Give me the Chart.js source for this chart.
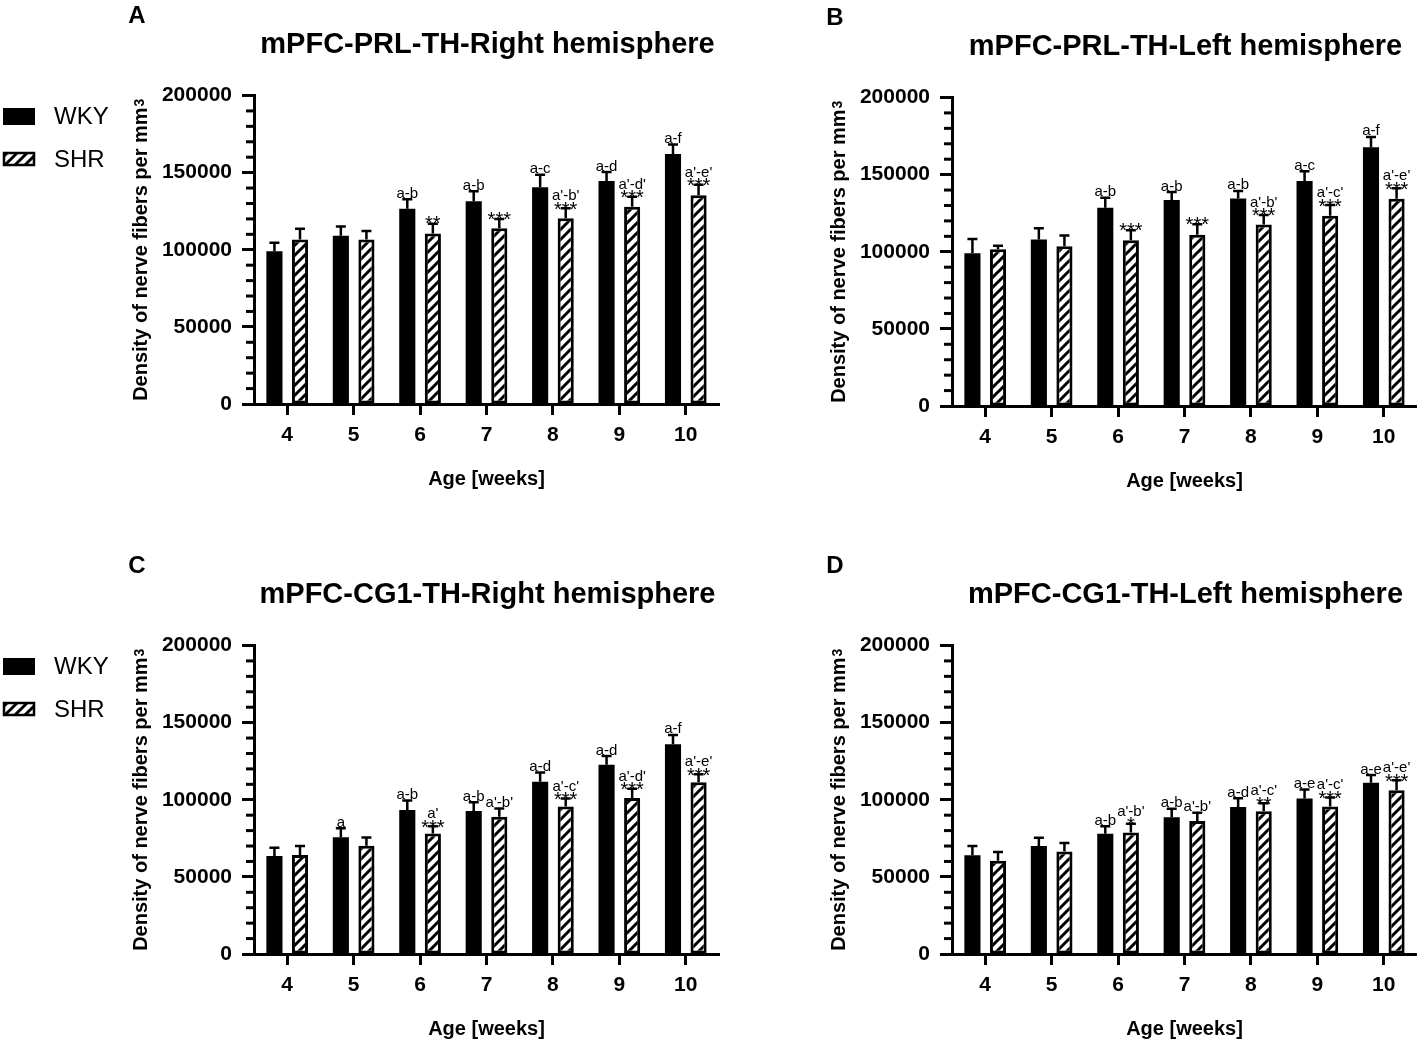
<!DOCTYPE html>
<html>
<head>
<meta charset="utf-8">
<title>mPFC TH nerve fiber density</title>
<script src="https://cdn.jsdelivr.net/npm/chart.js@4.4.0/dist/chart.umd.min.js"></script>
<style>
  html, body { margin: 0; padding: 0; background: #fff; overflow: hidden; }
  #figure { position: relative; width: 1417px; height: 1045px; }
  #figure canvas { position: absolute; }
</style>
</head>
<body>
<div id="figure">
  <canvas id="panelA" width="720" height="520" style="left:0px;top:0px"></canvas>
  <canvas id="panelB" width="720" height="520" style="left:698px;top:2px"></canvas>
  <canvas id="panelC" width="720" height="520" style="left:0px;top:550px"></canvas>
  <canvas id="panelD" width="720" height="520" style="left:698px;top:550px"></canvas>
</div>
<script>
// Age groups and y axis labels
const ageWeeks = ['4', '5', '6', '7', '8', '9', '10'];
const yTickValues = [0, 50000, 100000, 150000, 200000];

// A: mPFC-PRL-TH right hemisphere
const prlRightWky = [99000, 109000, 126500, 131500, 140500, 144500, 162000];
const prlRightWkySem = [5500, 6000, 6200, 6500, 8200, 5900, 6200];
const prlRightShr = [106700, 106700, 110600, 113900, 120400, 127900, 135300];
const prlRightShrSem = [6900, 5400, 6300, 6000, 6500, 6500, 6900];
const prlRightWkyMarks = ['', '', 'a-b', 'a-b', 'a-c', 'a-d', 'a-f'];
const prlRightShrMarks = ['', '', '', '', "a'-b'", "a'-d'", "a'-e'"];
const prlRightShrStars = ['', '', '**', '***', '***', '***', '***'];

// B: mPFC-PRL-TH left hemisphere
const prlLeftWky = [99100, 108000, 128600, 133500, 134600, 145800, 167700];
const prlLeftWkySem = [9100, 7300, 6400, 5200, 4800, 6400, 6700];
const prlLeftShr = [101700, 103600, 107500, 111000, 117600, 123400, 134400];
const prlLeftShrSem = [2200, 6900, 6500, 6800, 6300, 6900, 6700];
const prlLeftWkyMarks = ['', '', 'a-b', 'a-b', 'a-b', 'a-c', 'a-f'];
const prlLeftShrMarks = ['', '', '', '', "a'-b'", "a'-c'", "a'-e'"];
const prlLeftShrStars = ['', '', '***', '***', '***', '***', '***'];

// C: mPFC-CG1-TH right hemisphere
const cg1RightWky = [63500, 75700, 93300, 92700, 111600, 122700, 136000];
const cg1RightWkySem = [5400, 5800, 6200, 5600, 6000, 5600, 6000];
const cg1RightShr = [64200, 70200, 78100, 89000, 95700, 101100, 111400];
const cg1RightShrSem = [5800, 5300, 4700, 5400, 5100, 6000, 5100];
const cg1RightWkyMarks = ['', 'a', 'a-b', 'a-b', 'a-d', 'a-d', 'a-f'];
const cg1RightShrMarks = ['', '', "a'", "a'-b'", "a'-c'", "a'-d'", "a'-e'"];
const cg1RightShrStars = ['', '', '***', '', '***', '***', '***'];

// D: mPFC-CG1-TH left hemisphere
const cg1LeftWky = [64000, 70000, 77900, 88700, 95300, 100800, 111100];
const cg1LeftWkySem = [6000, 5300, 4900, 5500, 5700, 5800, 4900];
const cg1LeftShr = [60400, 66400, 78700, 86200, 92500, 95700, 106200];
const cg1LeftShrSem = [5800, 5500, 5800, 5300, 5200, 5800, 6400];
const cg1LeftWkyMarks = ['', '', 'a-b', 'a-b', 'a-d', 'a-e', 'a-e'];
const cg1LeftShrMarks = ['', '', "a'-b'", "a'-b'", "a'-c'", "a'-c'", "a'-e'"];
const cg1LeftShrStars = ['', '', '*', '', '**', '***', '***'];

const FONT = '"Liberation Sans", Arial, sans-serif';

// diagonal hatch for the SHR bars
function makeHatch() {
    const c = document.createElement('canvas');
    c.width = 10;
    c.height = 10;
    const g = c.getContext('2d');
    g.fillStyle = '#fff';
    g.fillRect(0, 0, 10, 10);
    g.strokeStyle = '#000';
    g.lineWidth = 3;
    g.beginPath();
    g.moveTo(-2, 12); g.lineTo(12, -2);
    g.moveTo(-2, 2); g.lineTo(2, -2);
    g.moveTo(8, 12); g.lineTo(12, 8);
    g.stroke();
    return document.createElement('canvas').getContext('2d').createPattern(c, 'repeat');
}
const hatch = makeHatch();

// error bars, letters/stars, minor ticks, titles, legend
const panelDecor = {
    id: 'panelDecor',
    afterDatasetsDraw(chart) {
        const ctx = chart.ctx;
        const yScale = chart.scales.y;
        ctx.save();
        ctx.strokeStyle = '#000';
        ctx.fillStyle = '#000';
        ctx.lineWidth = 2.5;
        ctx.textAlign = 'center';
        chart.data.datasets.forEach((ds, i) => {
            const meta = chart.getDatasetMeta(i);
            meta.data.forEach((bar, j) => {
                const top = yScale.getPixelForValue(ds.data[j] + ds.sem[j]);
                ctx.beginPath();
                ctx.moveTo(bar.x, bar.y);
                ctx.lineTo(bar.x, top);
                ctx.moveTo(bar.x - 5, top);
                ctx.lineTo(bar.x + 5, top);
                ctx.stroke();

                const mark = ds.marks[j];
                const stars = ds.stars ? ds.stars[j] : '';
                ctx.textBaseline = 'alphabetic';
                if (stars) {
                    ctx.font = '20px ' + FONT;
                    ctx.fillText(stars, bar.x, top + (mark ? 7.5 : 6.5));
                }
                if (mark) {
                    ctx.font = '15px ' + FONT;
                    ctx.fillText(mark, bar.x, stars ? top - 8 : top - 1.5);
                }
            });
        });
        ctx.restore();
    },
    afterDraw(chart, args, opts) {
        const ctx = chart.ctx;
        const area = chart.chartArea;
        const yScale = chart.scales.y;
        ctx.save();

        // minor ticks on the y axis
        ctx.strokeStyle = '#000';
        ctx.lineWidth = 3;
        for (let v = 10000; v < 200000; v += 10000) {
            if (v % 50000 === 0) continue;
            const py = yScale.getPixelForValue(v);
            ctx.beginPath();
            ctx.moveTo(area.left - 8, py);
            ctx.lineTo(area.left, py);
            ctx.stroke();
        }

        ctx.fillStyle = '#000';

        // y axis title with a raised "3"
        ctx.save();
        ctx.translate(146.5, (area.top + area.bottom) / 2);
        ctx.rotate(-Math.PI / 2);
        ctx.textBaseline = 'alphabetic';
        ctx.textAlign = 'left';
        ctx.font = 'bold 20px ' + FONT;
        const main = 'Density of nerve fibers per mm';
        const w1 = ctx.measureText(main).width;
        ctx.font = 'bold 14px ' + FONT;
        const w2 = ctx.measureText('3').width;
        const x0 = -(w1 + w2 + 1) / 2;
        ctx.font = 'bold 20px ' + FONT;
        ctx.fillText(main, x0, 0);
        ctx.font = 'bold 14px ' + FONT;
        ctx.fillText('3', x0 + w1 + 1, -2.5);
        ctx.restore();

        ctx.textBaseline = 'middle';

        // panel letter
        ctx.textAlign = 'center';
        ctx.font = 'bold 24px ' + FONT;
        ctx.fillText(opts.letter, 137, 16);

        // panel title
        ctx.font = 'bold 29px ' + FONT;
        ctx.fillText(opts.title, (area.left + area.right) / 2 + 1, 45);

        // legend
        if (opts.legend) {
            ctx.fillRect(3, 108, 32, 17);
            ctx.fillStyle = hatch;
            ctx.fillRect(4, 153, 30, 12);
            ctx.lineWidth = 2.5;
            ctx.strokeRect(4, 153, 30, 12);
            ctx.fillStyle = '#000';
            ctx.textAlign = 'left';
            ctx.font = '24px ' + FONT;
            ctx.fillText(chart.data.datasets[0].label, 54, 117);
            ctx.fillText(chart.data.datasets[1].label, 54, 160);
        }
        ctx.restore();
    }
};

function makePanel(canvasId, letter, title, legend, wky, wkySem, wkyMarks, shr, shrSem, shrMarks, shrStars) {
    return new Chart(document.getElementById(canvasId), {
        type: 'bar',
        data: {
            labels: ageWeeks,
            datasets: [
                {
                    label: 'WKY',
                    data: wky,
                    sem: wkySem,
                    marks: wkyMarks,
                    backgroundColor: '#000',
                    borderWidth: 0
                },
                {
                    label: 'SHR',
                    data: shr,
                    sem: shrSem,
                    marks: shrMarks,
                    stars: shrStars,
                    backgroundColor: hatch,
                    borderColor: '#000',
                    borderWidth: 3,
                    borderSkipped: false
                }
            ]
        },
        options: {
            responsive: false,
            animation: false,
            devicePixelRatio: 1,
            categoryPercentage: 0.77,
            barPercentage: 0.63,
            layout: {
                padding: { top: 95.5, right: 1, left: 0, bottom: 0 }
            },
            plugins: {
                legend: { display: false },
                tooltip: { enabled: false },
                title: { display: false },
                panelDecor: { letter: letter, title: title, legend: legend }
            },
            scales: {
                x: {
                    type: 'category',
                    offset: true,
                    afterFit: (scale) => { scale.height = 116; },
                    grid: {
                        offset: false,
                        drawOnChartArea: false,
                        drawTicks: true,
                        tickLength: 11,
                        tickWidth: 3,
                        tickColor: '#000'
                    },
                    border: { display: true, color: '#000', width: 3 },
                    ticks: {
                        color: '#000',
                        padding: 8,
                        maxRotation: 0,
                        font: { family: FONT, size: 21, weight: 'bold' }
                    },
                    title: {
                        display: true,
                        text: 'Age [weeks]',
                        color: '#000',
                        padding: { top: 0, bottom: 29 },
                        font: { family: FONT, size: 20, weight: 'bold' }
                    }
                },
                y: {
                    min: 0,
                    max: 200000,
                    afterFit: (scale) => { scale.width = 254; },
                    afterBuildTicks: (scale) => {
                        scale.ticks = yTickValues.map(v => ({ value: v }));
                    },
                    grid: {
                        drawOnChartArea: false,
                        drawTicks: true,
                        tickLength: 12,
                        tickWidth: 3,
                        tickColor: '#000'
                    },
                    border: { display: true, color: '#000', width: 3 },
                    ticks: {
                        color: '#000',
                        padding: 10,
                        font: { family: FONT, size: 21, weight: 'bold' },
                        callback: (v) => String(v)
                    },
                    title: { display: false }
                }
            }
        },
        plugins: [panelDecor]
    });
}

makePanel('panelA', 'A', 'mPFC-PRL-TH-Right hemisphere', true,
    prlRightWky, prlRightWkySem, prlRightWkyMarks, prlRightShr, prlRightShrSem, prlRightShrMarks, prlRightShrStars);
makePanel('panelB', 'B', 'mPFC-PRL-TH-Left hemisphere', false,
    prlLeftWky, prlLeftWkySem, prlLeftWkyMarks, prlLeftShr, prlLeftShrSem, prlLeftShrMarks, prlLeftShrStars);
makePanel('panelC', 'C', 'mPFC-CG1-TH-Right hemisphere', true,
    cg1RightWky, cg1RightWkySem, cg1RightWkyMarks, cg1RightShr, cg1RightShrSem, cg1RightShrMarks, cg1RightShrStars);
makePanel('panelD', 'D', 'mPFC-CG1-TH-Left hemisphere', false,
    cg1LeftWky, cg1LeftWkySem, cg1LeftWkyMarks, cg1LeftShr, cg1LeftShrSem, cg1LeftShrMarks, cg1LeftShrStars);
</script>
</body>
</html>
